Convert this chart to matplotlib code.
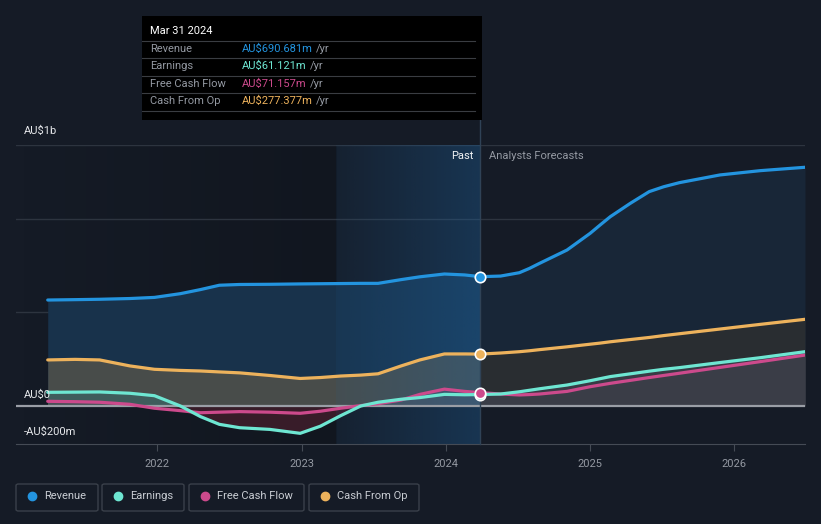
"""Revenue, earnings and cash flow history with analyst forecasts."""
import matplotlib
matplotlib.use('Agg')
import matplotlib.pyplot as plt
from matplotlib.colors import to_rgb
from matplotlib.patches import Rectangle, FancyBboxPatch
from matplotlib.lines import Line2D
import numpy as np

plt.rcParams['font.family'] = ['Roboto', 'DejaVu Sans']

# Data, AU$ millions, decimal years
YEARS = [2021.24, 2021.43, 2021.60, 2021.81, 2021.98, 2022.16, 2022.30, 2022.43,
         2022.57, 2022.78, 2022.99, 2023.13, 2023.27, 2023.41, 2023.53, 2023.69,
         2023.82, 2023.99, 2024.13, 2024.24, 2024.38, 2024.51, 2024.58, 2024.65,
         2024.84, 2025.00, 2025.07, 2025.14, 2025.28, 2025.41, 2025.51, 2025.62,
         2025.90, 2026.18, 2026.49]
REVENUE = [566, 568, 570, 574, 580, 600, 622, 645, 649, 650, 652, 653, 654, 655,
           655, 675, 690, 705, 700, 690.681, 694, 712, 735, 762, 833, 922, 967,
           1011, 1083, 1145, 1171, 1193, 1234, 1257, 1275]
EARNINGS = [73, 74, 75, 68, 55, 0, -57, -98, -116, -125, -146, -108, -52, 0, 20,
            36, 45, 62, 60, 61.121, 64, 76, 84, 92, 112, 135, 146, 157, 172, 186,
            196, 205, 232, 258, 290]
FREE_CASH_FLOW = [25, 23, 20, 9, -12, -25, -36, -33, -30, -33, -39, -28, -12, 2,
                  12, 32, 62, 90, 78, 71.157, 64, 59, 61, 64, 78, 103, 112, 121,
                  137, 152, 163, 175, 206, 237, 272]
CASH_FROM_OP = [246, 249, 246, 214, 196, 190, 187, 182, 177, 163, 147, 152, 160,
                165, 172, 214, 246, 278, 278, 277.377, 283, 290, 295, 301, 316,
                330, 336, 343, 355, 366, 376, 386, 411, 436, 463]

PAST_END = 2024.24
HIGHLIGHT_START = 2023.24
X_TICKS = [2022, 2023, 2024, 2025, 2026]
SERIES = ['Revenue', 'Earnings', 'Free Cash Flow', 'Cash From Op']
TOOLTIP_VALUES = ['AU$690.681m', 'AU$61.121m', 'AU$71.157m', 'AU$277.377m']

BG = '#151b26'
COLORS = {'Revenue': '#2394df', 'Earnings': '#6ee6d2',
          'Free Cash Flow': '#cc4a8c', 'Cash From Op': '#edb25c'}
# (past fill, forecast fill)
FILLS = {'Revenue': ('#18324b', '#182637'),
         'Cash From Op': ('#484c4a', '#292d31'),
         'Earnings': ('#3f5c5c', '#383b45'),
         'Free Cash Flow': ('#4a5058', '#3a3d47')}
NEG_FILL = '#381c29'
GRID = '#2d343f'
MUTED = '#9499a2'


def h_gradient(ax, x0, x1, y0, y1, color, a0, a1, zorder):
    rgb = to_rgb(color)
    img = np.zeros((1, 256, 4))
    img[..., :3] = rgb
    img[..., 3] = np.linspace(a0, a1, 256)
    ax.imshow(img, extent=[x0, x1, y0, y1], aspect='auto', zorder=zorder,
              interpolation='bilinear')


def main():
    fig = plt.figure(figsize=(8.21, 5.24), dpi=100, facecolor=BG)
    W, H = 821, 524
    ax = fig.add_axes([16 / W, 1 - 444 / H, (805 - 16) / W, (444 - 145) / H])
    ax.set_facecolor(BG)

    x = np.array(YEARS)
    past = x <= PAST_END + 1e-9
    fut = x >= PAST_END - 1e-9
    data = {'Revenue': np.array(REVENUE), 'Earnings': np.array(EARNINGS),
            'Free Cash Flow': np.array(FREE_CASH_FLOW),
            'Cash From Op': np.array(CASH_FROM_OP)}

    ymin, ymax = -203, 1394
    xmin, xmax = 2021.02, 2026.49

    # slight darkening towards the highlighted year
    h_gradient(ax, xmin, HIGHLIGHT_START, ymin, ymax, '#000000', 0.0, 0.18, 0)

    # gridlines
    for g in [500, 1000, ymax]:
        ax.axhline(g, color=GRID, lw=1, zorder=1)

    # area fills, stacked from largest to smallest
    for name in ['Revenue', 'Cash From Op', 'Earnings', 'Free Cash Flow']:
        y = np.clip(data[name], 0, None)
        cp, cf = FILLS[name]
        ax.fill_between(x[past], 0, y[past], color=cp, lw=0, zorder=2)
        ax.fill_between(x[fut], 0, y[fut], color=cf, lw=0, zorder=2)
    neg = np.minimum(np.minimum(data['Earnings'], data['Free Cash Flow']), 0)
    ax.fill_between(x, 0, neg, color=NEG_FILL, lw=0, zorder=2)

    # highlighted last year of history
    h_gradient(ax, HIGHLIGHT_START, PAST_END, ymin, ymax, '#1f6db0', 0.08,
               0.32, 3)

    # zero line
    ax.axhline(0, color='#9a9ea6', lw=1.6, zorder=3)

    # series lines
    for name in ['Cash From Op', 'Free Cash Flow', 'Earnings', 'Revenue']:
        ax.plot(x, data[name], color=COLORS[name], lw=2.3, zorder=4,
                solid_capstyle='round', solid_joinstyle='round')
    for name in ['Revenue', 'Cash From Op', 'Earnings', 'Free Cash Flow']:
        y = data[name][np.argmin(np.abs(x - PAST_END))]
        ax.plot([PAST_END], [y], 'o', ms=7.5, mfc=COLORS[name], mec='white',
                mew=1.2, zorder=5)

    ax.set_xlim(xmin, xmax)
    ax.set_ylim(ymin, ymax)

    # past / forecast divider extends up to the tooltip
    ax.axvline(PAST_END, ymin=0, ymax=(444 - 120) / (444 - 145), color='#2f4256',
               lw=1, zorder=3, clip_on=False)

    # axes styling
    for s in ['top', 'right', 'left']:
        ax.spines[s].set_visible(False)
    ax.spines['bottom'].set_color('#454b55')
    ax.set_yticks([])
    ax.set_xticks(X_TICKS)
    ax.set_xticklabels([str(t) for t in X_TICKS])
    ax.tick_params(axis='x', colors='#454b55', labelcolor=MUTED, labelsize=8,
                   length=5, pad=6)

    # y labels
    for label, ypx in [('AU$1b', 131), ('AU$0', 395), ('-AU$200m', 432)]:
        fig.text(24 / W, 1 - ypx / H, label, color='#e6e8eb', fontsize=8,
                 va='center')

    # past / forecast labels
    fig.text(473 / W, 1 - 156 / H, 'Past', color='#f0f2f4', fontsize=8,
             ha='right', va='center')
    fig.text(489 / W, 1 - 156 / H, 'Analysts Forecasts', color=MUTED,
             fontsize=8, ha='left', va='center')

    # tooltip box
    fig.patches.append(Rectangle((142 / W, 1 - 120 / H), 340 / W, 104 / H,
                                 transform=fig.transFigure, facecolor='black',
                                 edgecolor='none', zorder=10))
    fig.text(150 / W, 1 - 31 / H, 'Mar 31 2024', color='white', fontsize=8,
             va='center', zorder=11)
    row_y = [49, 66, 84, 101]
    for yl in [41, 58, 76, 93, 111]:
        fig.add_artist(Line2D([142 / W, 475 / W], [1 - yl / H, 1 - yl / H],
                              color='#3a3d42', lw=0.8, zorder=11))
    fig.canvas.draw()
    for name, val, yr in zip(SERIES, TOOLTIP_VALUES, row_y):
        fig.text(150 / W, 1 - yr / H, name, color=MUTED, fontsize=8,
                 va='center', zorder=11)
        t = fig.text(242 / W, 1 - yr / H, val, color=COLORS[name], fontsize=8,
                     va='center', zorder=11)
        bb = t.get_window_extent(renderer=fig.canvas.get_renderer())
        fig.text(bb.x1 / W + 3 / W, 1 - yr / H, '/yr', color=MUTED,
                 fontsize=8, va='center', zorder=11)

    # legend boxes
    boxes = [(16, 98), (102, 184), (189, 304), (309, 419)]
    for name, (x0, x1) in zip(SERIES, boxes):
        fig.patches.append(FancyBboxPatch(
            (x0 / W, 1 - 511 / H), (x1 - x0) / W, 27 / H,
            boxstyle='round,pad=0,rounding_size=0.003',
            transform=fig.transFigure, facecolor='none', edgecolor='#3a404a',
            lw=1))
        fig.add_artist(Line2D([(x0 + 16) / W], [1 - 496 / H], marker='o',
                              ms=6, color=COLORS[name], lw=0))
        fig.text((x0 + 28) / W, 1 - 496 / H, name, color='#c9cdd3',
                 fontsize=8, va='center')

    fig.savefig('out.png', dpi=100, facecolor=BG)


if __name__ == '__main__':
    main()
